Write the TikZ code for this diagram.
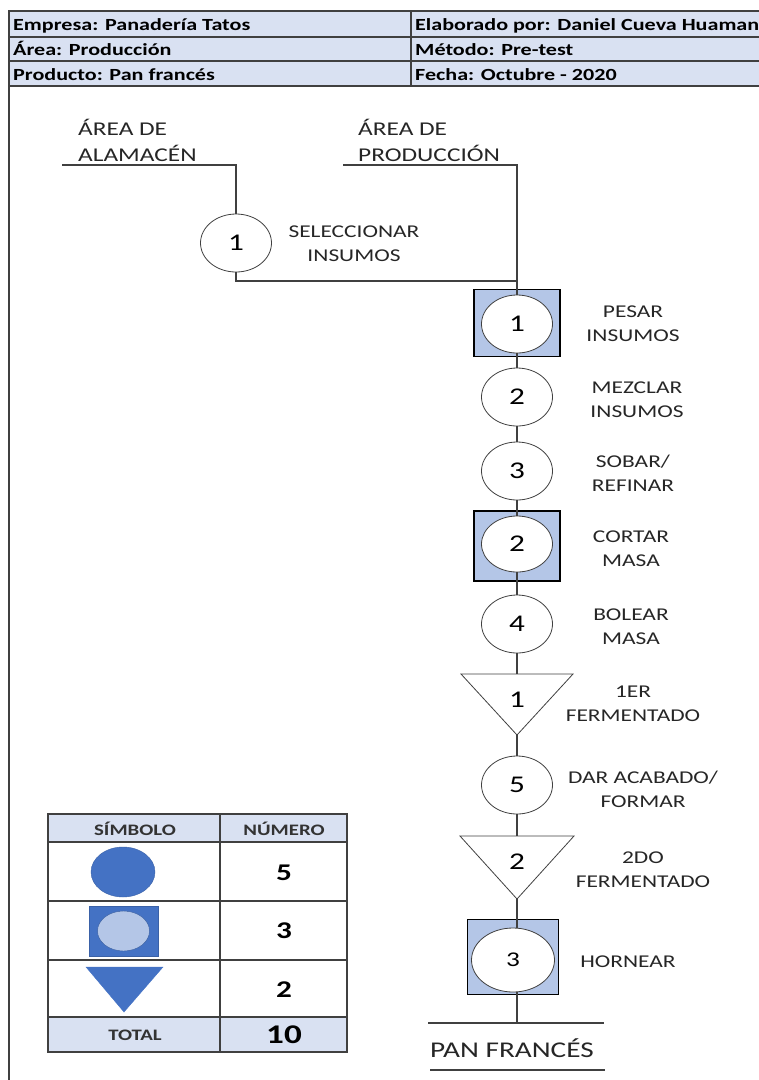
\documentclass[tikz,border=0pt]{standalone}
\usepackage{fontspec}
\setmainfont{Carlito}[FakeStretch=1.3]
\usetikzlibrary{positioning,shapes.geometric}
\definecolor{hdrblue}{HTML}{D9E1F2}
\definecolor{boxblue}{HTML}{B4C6E7}
\definecolor{symblue}{HTML}{4472C4}
\definecolor{linegray}{HTML}{404040}
\tikzset{
  hdr/.style={anchor=base west, inner sep=0pt, font=\fontsize{17}{17}\selectfont\bfseries},
  oper/.style={ellipse, draw=linegray, line width=0.8pt, fill=white, minimum width=71pt, minimum height=58pt, inner sep=0pt, font=\fontsize{24}{24}\selectfont},
  insp/.style={rectangle, draw=black, line width=1.8pt, fill=boxblue, minimum width=86pt, minimum height=67pt},
  waitsym/.style={draw=linegray, line width=0.8pt, fill=white},
  lbl/.style={align=center, inner sep=0pt, text=black!85, font=\fontsize{18}{24}\selectfont},
  area/.style={align=left, anchor=west, inner sep=0pt, text=black!85, font=\fontsize{19.5}{26}\selectfont},
  flow/.style={draw=linegray, line width=1.1pt},
  grid/.style={draw=linegray, line width=1.3pt},
  legtxt/.style={inner sep=0pt, font=\fontsize{16}{16}\selectfont\bfseries, text=black!80},
  legnum/.style={inner sep=0pt, font=\fontsize{24}{24}\selectfont\bfseries}
}
\begin{document}
\begin{tikzpicture}[x=1pt, y=-1pt]
\useasboundingbox (0,0) rectangle (759,1080);

% encabezado
\draw[grid, fill=hdrblue] (9,11) rectangle (770,86);
\draw[grid] (9,37) -- (770,37) (9,61) -- (770,61) (411,11) -- (411,86);
\draw[grid] (9,86) -- (9,1085);
\node[hdr] (emp) at (13,30) {Empresa: Panadería Tatos};
\node[hdr] (area) at (13,55) {Área: Producción};
\node[hdr] (prod) at (13,80) {Producto: Pan francés};
\node[hdr] (elab) at (415,30) {Elaborado por: Daniel Cueva Huaman};
\node[hdr] (met) at (415,55) {Método: Pre-test};
\node[hdr] (fecha) at (415,80) {Fecha: Octubre - 2020};

% origenes
\node[area] (almac) at (78,140) {ÁREA DE\\ALAMACÉN};
\node[area] (produc) at (358,140) {ÁREA DE\\PRODUCCIÓN};
\coordinate (almline) at (62,165);
\coordinate (prodline) at (343,165);
\coordinate (join) at (517,281);

% simbolos del proceso
\node[oper] (sel) at (236,243) {1};
\node[insp] (ins1) at (517,323) {};
\node[oper] (ins1c) at (517,324) {1};
\node[oper] (op2) at (517,397) {2};
\node[oper] (op3) at (517,471) {3};
\node[insp, minimum height=70pt] (ins2) at (517,546) {};
\node[oper, minimum height=56pt] (ins2c) at (517,544) {2};
\node[oper] (op4) at (517,624) {4};
\draw[waitsym] (461,674) -- (573,674) -- (517,735) -- cycle;
\coordinate (w1top) at (517,674);
\coordinate (w1tip) at (517,735);
\node[inner sep=0pt, font=\fontsize{24}{24}\selectfont] (w1) at (517,700) {1};
\node[oper] (op5) at (517,785) {5};
\draw[waitsym] (460,836) -- (574,836) -- (517,899) -- cycle;
\coordinate (w2top) at (517,836);
\coordinate (w2tip) at (517,899);
\node[inner sep=0pt, font=\fontsize{24}{24}\selectfont] (w2) at (517,862) {2};
\node[insp, minimum width=91pt, minimum height=75pt] (ins3) at (513,957) {};
\node[oper, minimum width=83pt, minimum height=64pt, font=\fontsize{21}{21}\selectfont] (ins3c) at (513,960) {3};
\coordinate (panjoin) at (517,1023);

% conectores
\draw[flow] (almline) -| (sel.north);
\draw[flow] (prodline) -| (ins1c.north);
\draw[flow] (sel.south) |- (join);
\draw[flow] (ins1c.south) -- (op2.north);
\draw[flow] (op2.south) -- (op3.north);
\draw[flow] (op3.south) -- (ins2c.north);
\draw[flow] (ins2c.south) -- (op4.north);
\draw[flow] (op4.south) -- (w1top);
\draw[flow] (w1tip) -- (op5.north);
\draw[flow] (op5.south) -- (w2top);
\draw[flow] (w2tip) -- (w2tip |- ins3c.north);
\draw[flow] (panjoin |- ins3c.south) -- (panjoin);
\draw[flow] (428,1023) -- (604,1023);
\draw[flow] (430,1070) -- (605,1070);

% actividades
\node[lbl] (tsel) at (354,244) {SELECCIONAR\\INSUMOS};
\node[lbl] (t1) at (633,324) {PESAR\\INSUMOS};
\node[lbl] (t2) at (637,400) {MEZCLAR\\INSUMOS};
\node[lbl] (t3) at (633,473) {SOBAR/\\REFINAR};
\node[lbl] (t4) at (631,549) {CORTAR\\MASA};
\node[lbl] (t5) at (631,627) {BOLEAR\\MASA};
\node[lbl] (t6) at (633,704) {1ER\\FERMENTADO};
\node[lbl] (t7) at (643,789) {DAR ACABADO/\\FORMAR};
\node[lbl] (t8) at (643,870) {2DO\\FERMENTADO};
\node[lbl] (t9) at (628,962) {HORNEAR};
\node[area, font=\fontsize{22.5}{22.5}\selectfont] (pan) at (430,1048) {PAN FRANCÉS};

% resumen
\draw[grid, fill=hdrblue] (48,814) rectangle (347,842);
\draw[grid] (48,842) rectangle (347,1017);
\draw[grid, fill=hdrblue] (48,1017) rectangle (347,1052);
\draw[grid] (48,901) -- (347,901) (48,960) -- (347,960) (220,814) -- (220,1052);
\node[legtxt] (simb) at (135,829) {SÍMBOLO};
\node[legtxt] (nume) at (284,829) {NÚMERO};
\node[ellipse, fill=symblue, draw=symblue!85!black, minimum width=64pt, minimum height=50pt] (lop) at (123,872) {};
\node[rectangle, fill=symblue, draw=symblue!85!black, minimum width=69pt, minimum height=50pt] (lins) at (123.5,931) {};
\node[ellipse, fill=boxblue, draw=symblue!80!black, minimum width=52pt, minimum height=40pt] (linsc) at (123.5,931) {};
\draw[fill=symblue, draw=symblue] (86,967) -- (163,967) -- (124,1012) -- cycle;
\node[legnum] (nop) at (284,873) {5};
\node[legnum] (nins) at (284,931) {3};
\node[legnum] (nwait) at (284,990) {2};
\node[legtxt] (tot) at (135,1035) {TOTAL};
\node[legnum, font=\fontsize{27}{27}\selectfont\bfseries] (ntot) at (284,1035) {10};
\end{tikzpicture}
\end{document}
